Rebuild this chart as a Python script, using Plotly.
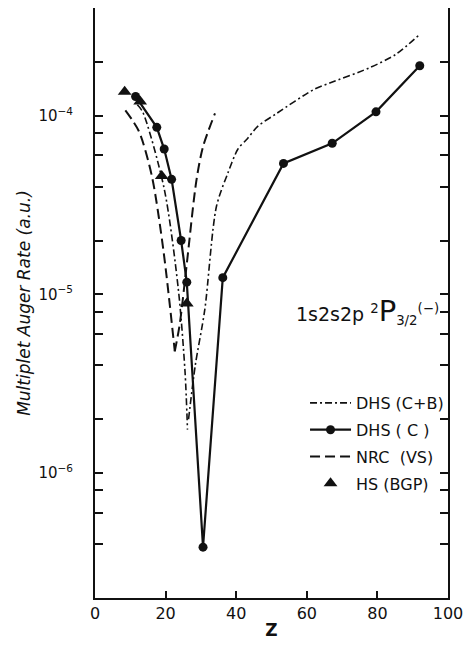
import math
import plotly.graph_objects as go

# ---- data ----
# DHS (C): points joined by straight lines
z_dhs_c = [11.5, 17.5, 19.6, 21.7, 24.4, 26.0, 30.6, 36.2, 53.4, 67.2, 79.6, 92.0]
r_dhs_c = [1.28e-4, 8.6e-5, 6.5e-5, 4.4e-5, 2.0e-5, 1.17e-5, 3.85e-7, 1.24e-5,
           5.4e-5, 7.0e-5, 1.05e-4, 1.9e-4]

# HS (BGP): triangles
z_hs = [8.4, 12.8, 18.9, 26.0]
r_hs = [1.36e-4, 1.2e-4, 4.6e-5, 8.9e-6]

# NRC (VS): dashed curve, two branches meeting at the dip
z_nrc_left = [8.6, 12.4, 16.1, 19.4, 22.6]
r_nrc_left = [1.07e-4, 8.2e-5, 4.6e-5, 1.75e-5, 4.8e-6]
z_nrc_right = [22.6, 24.0, 26.0, 28.7, 30.6, 34.0]
r_nrc_right = [4.8e-6, 6.8e-6, 1.48e-5, 4.3e-5, 6.7e-5, 1.03e-4]

# DHS (C+B): dash-dot curve, two branches meeting at the dip
z_cb_left = [12.0, 13.5, 19.6, 23.6, 25.5, 26.2]
r_cb_left = [1.15e-4, 1.05e-4, 3.9e-5, 1.07e-5, 3.7e-6, 1.75e-6]
z_cb_right = [26.5, 28.4, 31.1, 34.4, 37.7, 40.5, 43.1, 46.1, 51.5, 62.0, 66.5,
              77.7, 85.2, 92.0]
r_cb_right = [2.0e-6, 4.0e-6, 8.2e-6, 3.1e-5, 4.8e-5, 6.5e-5, 7.4e-5, 8.7e-5,
              1.03e-4, 1.40e-4, 1.52e-4, 1.85e-4, 2.2e-4, 2.85e-4]

x_ticks = [0, 20, 40, 60, 80, 100]
y_decades = [1e-6, 1e-5, 1e-4]
y_decade_labels = ["10<sup>−6</sup>", "10<sup>−5</sup>", "10<sup>−4</sup>"]
y_minor_mult = [2, 4, 6, 8]

FONT = "DejaVu Sans"
BLACK = "#111111"

fig = go.Figure()

cb_dash = "7px,3px,2px,3px"
fig.add_trace(go.Scatter(x=z_cb_left, y=r_cb_left, mode="lines", name="DHS (C+B)",
                         legendgroup="cb", legendrank=1,
                         line=dict(color=BLACK, width=1.6, dash=cb_dash, shape="spline", smoothing=0.8)))
fig.add_trace(go.Scatter(x=z_cb_right, y=r_cb_right, mode="lines", name="DHS (C+B)",
                         legendgroup="cb", showlegend=False,
                         line=dict(color=BLACK, width=1.6, dash=cb_dash, shape="spline", smoothing=0.8)))
fig.add_trace(go.Scatter(x=z_dhs_c, y=r_dhs_c, mode="lines+markers", name="DHS ( C )",
                         legendgroup="c", legendrank=2,
                         line=dict(color=BLACK, width=2.2),
                         marker=dict(symbol="circle", size=9, color=BLACK)))
nrc_dash = "10px,5px"
fig.add_trace(go.Scatter(x=z_nrc_left, y=r_nrc_left, mode="lines", name="NRC  (VS)",
                         legendgroup="nrc", legendrank=3,
                         line=dict(color=BLACK, width=2, dash=nrc_dash, shape="spline", smoothing=0.8)))
fig.add_trace(go.Scatter(x=z_nrc_right, y=r_nrc_right, mode="lines", name="NRC  (VS)",
                         legendgroup="nrc", showlegend=False,
                         line=dict(color=BLACK, width=2, dash=nrc_dash, shape="spline", smoothing=0.8)))
fig.add_trace(go.Scatter(x=z_hs, y=r_hs, mode="markers", name="HS (BGP)",
                         legendgroup="hs", legendrank=4,
                         marker=dict(symbol="triangle-up", size=12, color=BLACK)))

# minor y ticks at 2,4,6,8 x 10^n inside the range
y_lo, y_hi = 2e-7, 4e-4
minor_vals = []
for e in range(-7, -3):
    for m in y_minor_mult:
        v = m * 10.0 ** e
        if y_lo * 0.999 <= v <= y_hi * 1.001:
            minor_vals.append(v)

W, H = 471, 647
ml, mr, mt, mb = 95, 18, 8, 49
PX0, PY0 = ml, mt
PW, PH = W - ml - mr, H - mt - mb

def paper(xp, yp):
    return (xp - PX0) / PW, (PY0 + PH - yp) / PH

tx, ty = paper(297, 311)
title_text = ("1s2s2p <sup>2</sup><span style='font-size:29px'>P</span>"
              "<sub>3/2</sub><sup>(−)</sup>")

lx, ly = paper(308, 386)

fig.update_layout(
    width=W, height=H,
    margin=dict(l=ml, r=mr, t=mt, b=mb),
    paper_bgcolor="white", plot_bgcolor="white",
    font=dict(family=FONT, color=BLACK, size=15),
    showlegend=True,
    legend=dict(x=lx, y=ly, xanchor="left", yanchor="top", traceorder="grouped",
                font=dict(family=FONT, size=16, color=BLACK),
                bgcolor="rgba(0,0,0,0)", itemwidth=41, tracegroupgap=3),
    annotations=[dict(text=title_text, x=tx, y=ty, xref="paper", yref="paper",
                      xanchor="left", yanchor="middle", showarrow=False,
                      font=dict(family=FONT, size=19, color=BLACK))],
)
fig.update_xaxes(range=[0, 100], tickvals=x_ticks, ticks="inside", ticklen=7, tickwidth=1.5,
                 tickcolor=BLACK, showline=True, linewidth=2, linecolor=BLACK, mirror=False,
                 showgrid=False, zeroline=False, tickfont=dict(size=16),
                 title=dict(text="<b>Z</b>", font=dict(size=17), standoff=2))
fig.update_yaxes(type="log", range=[math.log10(y_lo), math.log10(y_hi)],
                 tickvals=y_decades, ticktext=y_decade_labels,
                 ticks="inside", ticklen=8, tickwidth=1.5, tickcolor=BLACK,
                 minor=dict(tickvals=minor_vals, ticks="inside", ticklen=8, tickwidth=1.5,
                            tickcolor=BLACK, showgrid=False),
                 showline=True, linewidth=2, linecolor=BLACK, mirror="ticks", showgrid=False,
                 zeroline=False, tickfont=dict(size=15), ticklabelstandoff=17,
                 title=dict(text="<i>Multiplet Auger Rate (a.u.)</i>", font=dict(size=17),
                            standoff=3))

# remove the default 8px page margin so the 471x647 figure fills the window exactly
fig.write_html("out.html", config={"displayModeBar": False},
               post_script="document.body.style.margin='0px';")
